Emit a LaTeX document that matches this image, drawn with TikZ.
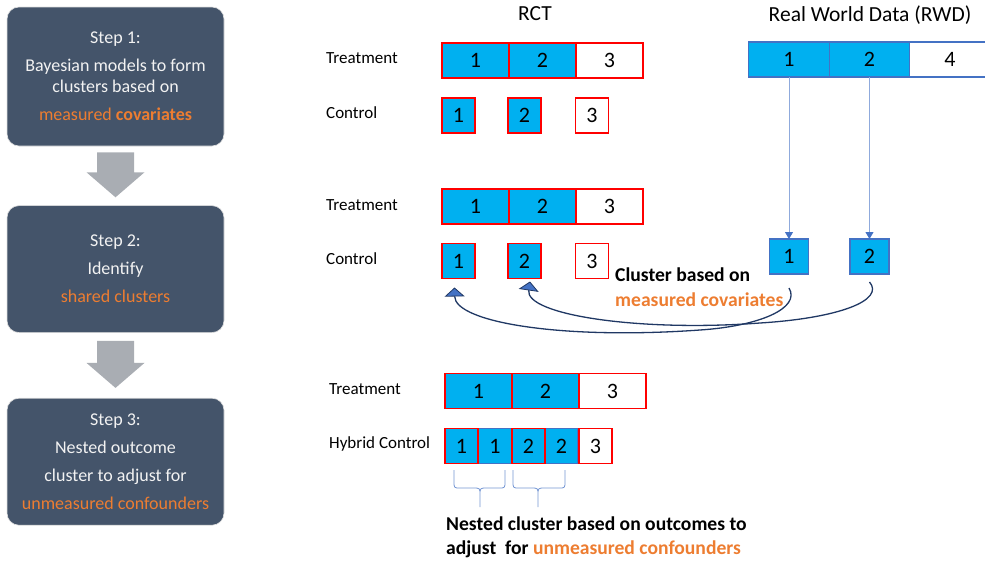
\documentclass[tikz,border=0pt]{standalone}
\usepackage{fontspec}
\setmainfont{Carlito}
\usetikzlibrary{positioning, arrows.meta}

\definecolor{stepslate}{HTML}{44546A}
\definecolor{flowgray}{HTML}{A9ADB3}
\definecolor{clustcyan}{HTML}{00B0F0}
\definecolor{rctred}{HTML}{FF0000}
\definecolor{rwdblue}{HTML}{4472C4}
\definecolor{linkblue}{HTML}{8FAADC}
\definecolor{curvenavy}{HTML}{203864}
\definecolor{accent}{HTML}{ED7D31}

\begin{document}
\begin{tikzpicture}[
	x=1pt, y=-1pt,
	% Define Node Styles
	stepbox/.style={rectangle, rounded corners=12pt, fill=stepslate, draw=gray!25, line width=0.6pt, text=white!95!black, minimum width=217pt, align=center, font=\fontsize{18}{28}\selectfont},
	flowarrow/.style={fill=flowgray},
	rowlabel/.style={anchor=base west, inner sep=0pt, font=\fontsize{17}{20}\selectfont},
	title/.style={font=\fontsize{21.5}{26}\selectfont},
	note/.style={anchor=west, align=left, inner sep=0pt, font=\bfseries\fontsize{19.6}{24.5}\selectfont},
	cell/.style={rectangle, inner sep=0pt, outer sep=0pt, line width=1.6pt, font=\fontsize{22}{26}\selectfont, minimum height=35pt},
	shared/.style={fill=clustcyan},
	trtcell/.style={cell, draw=rctred, minimum width=67pt},
	ctlcell/.style={cell, draw=rctred, minimum width=33pt},
	hybcell/.style={cell, minimum width=33.5pt},
	rwdcell/.style={cell, draw=rwdblue, line width=1.3pt, minimum width=80.5pt},
	rwdclust/.style={cell, draw=rwdblue, fill=clustcyan, line width=1.2pt, minimum width=39pt},
	% Define Connector Styles
	pointer/.style={draw=linkblue, line width=0.9pt, -{Triangle[width=8pt, length=7pt, color=rwdblue]}},
	link/.style={draw=curvenavy, line width=1.3pt, -{Triangle[width=20pt, length=9pt, fill=rwdblue, line width=0.8pt]}},
	nestbrace/.style={draw=rwdblue!75, line width=0.8pt}
	]
	\useasboundingbox (0,0) rectangle (985,560);
	\clip (0,0) rectangle (985,560);

	% Steps
	\node[stepbox, minimum height=139pt] (step1) at (115.5,76.5) {Step 1:\\Bayesian models to form\\[-7pt]clusters based on\\\textcolor{accent}{measured \textbf{covariates}}};
	\node[stepbox, minimum height=127pt, below=59pt of step1] (step2) {Step 2:\\Identify\\\textcolor{accent}{shared clusters}};
	\node[stepbox, minimum height=127pt, below=65pt of step2] (step3) {Step 3:\\Nested outcome\\cluster to adjust for\\\textcolor{accent}{unmeasured confounders}};
	% Block arrows between the steps
	\fill[flowarrow] ([xshift=-18.5pt,yshift=-6pt]step1.south) -- ++(0,20) -- ++(-10.5,0) -- ([yshift=8pt]step2.north) -- ++(29,-25) -- ++(-10.5,0) -- ++(0,-20) -- cycle;
	\fill[flowarrow] ([xshift=-18.5pt,yshift=-8pt]step2.south) -- ++(0,22) -- ++(-10.5,0) -- ([yshift=10pt]step3.north) -- ++(29,-25) -- ++(-10.5,0) -- ++(0,-22) -- cycle;

	% Titles
	\node[title] (rcttitle) at (535,14) {RCT};
	\node[title] (rwdtitle) at (870,15) {Real World Data (RWD)};

	% RCT: first row
	\node[rowlabel] (trtlab1) at (326,63) {Treatment};
	\node[rowlabel] (ctllab1) at (326,118) {Control};
	\node[trtcell, shared] (trt1a) at (475.5,60.5) {1};
	\node[trtcell, shared, right=0pt of trt1a] (trt1b) {2};
	\node[trtcell, right=0pt of trt1b] (trt1c) {3};
	\node[ctlcell, shared] (ctl1a) at (458.5,115.5) {1};
	\node[ctlcell, shared] (ctl1b) at (524.5,115.5) {2};
	\node[ctlcell] (ctl1c) at (592,115.5) {3};

	% RCT: second row
	\node[rowlabel] (trtlab2) at (326,210) {Treatment};
	\node[rowlabel] (ctllab2) at (326,264) {Control};
	\node[trtcell, shared] (trt2a) at (475.5,206.5) {1};
	\node[trtcell, shared, right=0pt of trt2a] (trt2b) {2};
	\node[trtcell, right=0pt of trt2b] (trt2c) {3};
	\node[ctlcell, shared] (ctl2a) at (458.5,261) {1};
	\node[ctlcell, shared] (ctl2b) at (524.5,261) {2};
	\node[ctlcell] (ctl2c) at (592,261) {3};

	% RCT: hybrid row
	\node[rowlabel] (trtlab3) at (329,394) {Treatment};
	\node[rowlabel] (hyblab) at (329,448.5) {Hybrid Control};
	\node[trtcell, shared] (trt3a) at (478.5,391) {1};
	\node[trtcell, shared, right=0pt of trt3a] (trt3b) {2};
	\node[trtcell, right=0pt of trt3b] (trt3c) {3};
	\node[hybcell, shared, draw=rwdblue] (hyb2) at (495,446) {1};
	\node[hybcell, shared, draw=rwdblue] (hyb4) at (561.5,446) {2};
	\node[hybcell, shared, draw=rctred] (hyb1) at (461.5,446) {1};
	\node[hybcell, shared, draw=rctred] (hyb3) at (528.5,446) {2};
	\node[hybcell, draw=rctred] (hyb5) at (595.5,446) {3};

	% Real world data
	\node[rwdcell, shared] (rwd1) at (789,59.5) {1};
	\node[rwdcell, shared, right=0pt of rwd1] (rwd2) {2};
	\node[rwdcell, right=0pt of rwd2] (rwd3) {4};
	\node[rwdclust] (rwdc1) at (789,256.5) {1};
	\node[rwdclust] (rwdc2) at (869.5,256.5) {2};
	\draw[pointer] (rwd1.south) -- (rwdc1.north);
	\draw[pointer] (rwd2.south) -- (rwdc2.north);

	% Borrowing into the control arm
	\draw[link] ([yshift=-14pt]rwdc1.south) .. controls (801,308) and (760,326) .. (700,330) .. controls (560,340) and (455,322) .. ([xshift=-4pt,yshift=-9pt]ctl2a.south);
	\draw[link] ([yshift=-8pt]rwdc2.south) .. controls (885,300) and (840,318) .. (760,323) .. controls (640,332) and (525,315) .. ([xshift=5.5pt,yshift=-3pt]ctl2b.south);
	\node[note] (cvnote) at (615,287) {Cluster based on\\\textcolor{accent}{measured covariates}};

	% Nested outcome clusters
	\draw[nestbrace] (454,470) -- (454,481) .. controls (454,488) .. (460,488) -- (473,488) .. controls (480,488) .. (480,495) -- (480,507)
		(480,495) .. controls (480,488) .. (487,488) -- (499,488) .. controls (505,488) .. (505,481) -- (505,470);
	\draw[nestbrace] (513,470) -- (513,481) .. controls (513,488) .. (519,488) -- (531,488) .. controls (538,488) .. (538,495) -- (538,507)
		(538,495) .. controls (538,488) .. (545,488) -- (559,488) .. controls (565,488) .. (565,481) -- (565,470);
	\node[note] (ocnote) at (446,537.5) {Nested cluster based on outcomes to\\adjust\ \ for \textcolor{accent}{unmeasured confounders}};

\end{tikzpicture}
\end{document}
